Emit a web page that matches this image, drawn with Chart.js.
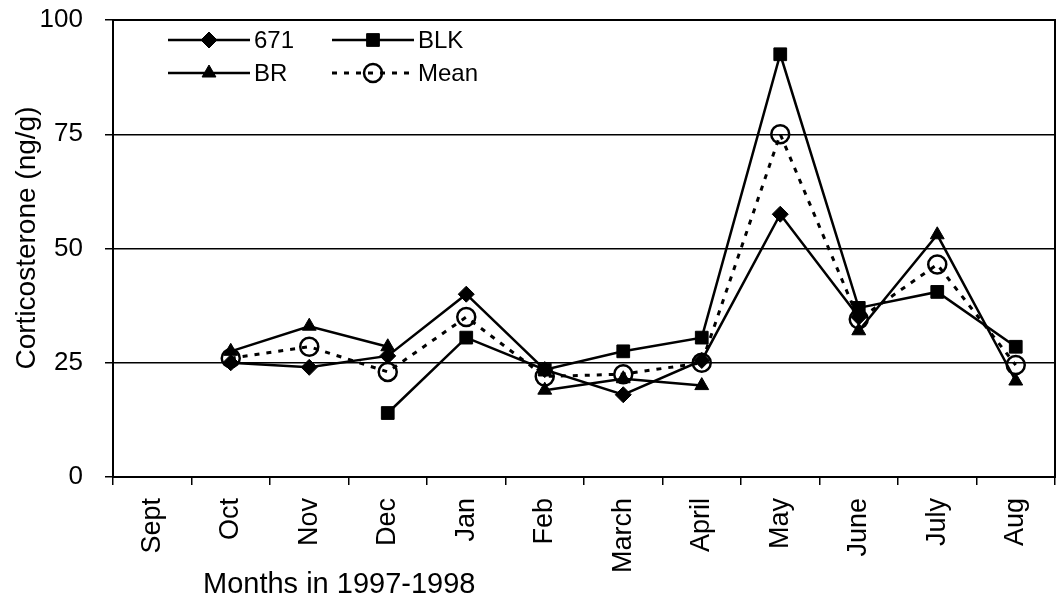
<!DOCTYPE html>
<html><head><meta charset="utf-8">
<script src="https://cdn.jsdelivr.net/npm/chart.js@4/dist/chart.umd.min.js"></script>
<style>html,body{margin:0;padding:0;background:#fff}#wrap{width:1058px;height:607px}</style>
</head><body><div id="wrap"><canvas id="c" width="1058" height="607"></canvas></div>
<script>
// ---- data ----
const months = ['Sept','Oct','Nov','Dec','Jan','Feb','March','April','May','June','July','Aug'];
const s671  = [null, 25, 24, 26.5, 40, 23.5, 18, 25.5, 57.5, 35, null, null];
const sBLK  = [null, null, null, 14, 30.5, 23.5, 27.5, 30.5, 92.5, 37, 40.5, 28.5];
const sBR   = [null, 27.5, 33, 28.5, null, 19, 21.5, 20, null, 32, 53, 21];
const sMean = [null, 26, 28.5, 23, 35, 22, 22.5, 25, 75, 34.5, 46.5, 24.5];
const yTicks = [0, 25, 50, 75, 100];
const seriesNames = ['671', 'BLK', 'BR', 'Mean'];
const yTitle = 'Corticosterone (ng/g)';
const xTitle = 'Months in 1997-1998';

const FONT = "'Liberation Sans', Arial, sans-serif";

function drawMarker(ctx, style, x, y, r, fill, stroke, lw) {
  ctx.save();
  ctx.beginPath();
  if (style === 'rectRot') {
    ctx.moveTo(x, y - r); ctx.lineTo(x + r, y); ctx.lineTo(x, y + r); ctx.lineTo(x - r, y);
    ctx.closePath();
  } else if (style === 'rect') {
    const s = r * Math.SQRT1_2;
    ctx.rect(x - s, y - s, 2 * s, 2 * s);
  } else if (style === 'triangle') {
    for (let i = 0; i < 3; i++) {
      const a = i * 2 * Math.PI / 3;
      const px = x + Math.sin(a) * r, py = y - Math.cos(a) * r;
      if (i === 0) ctx.moveTo(px, py); else ctx.lineTo(px, py);
    }
    ctx.closePath();
  } else {
    ctx.arc(x, y, r, 0, Math.PI * 2);
  }
  if (fill && fill !== 'transparent') { ctx.fillStyle = fill; ctx.fill(); }
  ctx.lineWidth = lw; ctx.strokeStyle = stroke; ctx.setLineDash([]); ctx.stroke();
  ctx.restore();
}

const frameAndText = {
  id: 'frameAndText',
  afterDatasetsDraw(chart) {
    const ctx = chart.ctx, a = chart.chartArea;
    ctx.save();
    // frame
    ctx.strokeStyle = '#000'; ctx.lineWidth = 2;
    ctx.strokeRect(a.left, a.top, a.right - a.left, a.bottom - a.top);
    // legend
    const layout = [[0, 168, 40], [1, 332, 40], [2, 168, 73], [3, 332, 73]];
    ctx.font = '24px ' + FONT; ctx.fillStyle = '#000'; ctx.textBaseline = 'middle'; ctx.textAlign = 'left';
    layout.forEach(([i, x0, y]) => {
      const ds = chart.data.datasets[i];
      ctx.save();
      ctx.strokeStyle = '#000'; ctx.lineWidth = ds.borderWidth;
      ctx.setLineDash(ds.borderDash || []);
      ctx.beginPath(); ctx.moveTo(x0, y); ctx.lineTo(x0 + 82, y); ctx.stroke();
      ctx.restore();
      drawMarker(ctx, ds.pointStyle, x0 + 41, y, ds.pointRadius, ds.pointBackgroundColor, '#000', ds.pointBorderWidth);
      ctx.fillText(ds.label, x0 + 86, y + 1);
    });
    // axis titles
    ctx.font = '29px ' + FONT; ctx.textAlign = 'left'; ctx.textBaseline = 'middle';
    ctx.fillText(xTitle, 203, 585);
    ctx.save();
    ctx.translate(27, 238); ctx.rotate(-Math.PI / 2);
    ctx.font = '28px ' + FONT; ctx.textAlign = 'center';
    ctx.fillText(yTitle, 0, 0);
    ctx.restore();
    ctx.restore();
  }
};

function ds(label, data, style, radius, fill, dash, bw) {
  return {
    label, data,
    borderColor: '#000', backgroundColor: '#000', borderWidth: bw,
    borderDash: dash, tension: 0, spanGaps: false,
    pointStyle: style, pointRadius: radius, pointHoverRadius: radius,
    pointBackgroundColor: fill, pointBorderColor: '#000', pointBorderWidth: style === 'circle' ? 2.5 : 1,
    fill: false
  };
}

function zeroPad(s) { s.paddingTop = 0; s.paddingBottom = 0; s.paddingLeft = 0; s.paddingRight = 0; }

new Chart(document.getElementById('c'), {
  type: 'line',
  data: {
    labels: months,
    datasets: [
      ds(seriesNames[0], s671, 'rectRot', 8, '#000', [], 2.5),
      ds(seriesNames[1], sBLK, 'rect', 9, '#000', [], 2.5),
      ds(seriesNames[2], sBR, 'triangle', 8, '#000', [], 2.5),
      ds(seriesNames[3], sMean, 'circle', 9, 'transparent', [5, 7], 3)
    ]
  },
  options: {
    responsive: false, animation: false, devicePixelRatio: 1,
    layout: { autoPadding: false, padding: { top: 20, right: 3, left: 0, bottom: 0 } },
    plugins: { legend: { display: false }, tooltip: { enabled: false }, title: { display: false } },
    scales: {
      x: {
        type: 'category', offset: true,
        grid: { offset: true, drawOnChartArea: false, drawTicks: true, tickLength: 8, color: '#000', lineWidth: 1.5 },
        border: { display: true, color: '#000', width: 2 },
        ticks: { autoSkip: false, maxRotation: 90, minRotation: 90, padding: 13, color: '#000', font: { family: FONT, size: 27 } },
        afterFit(s) { s.height = 130; zeroPad(s); }
      },
      y: {
        min: 0, max: 100,
        afterBuildTicks(s) { s.ticks = yTicks.map(v => ({ value: v })); },
        grid: { color: '#000', lineWidth: 1.5, tickLength: 8, drawTicks: true },
        border: { display: true, color: '#000', width: 2 },
        ticks: { padding: 22, color: '#000', font: { family: FONT, size: 26 } },
        afterFit(s) { s.width = 113; zeroPad(s); }
      }
    }
  },
  plugins: [frameAndText]
});
</script>
</body></html>
